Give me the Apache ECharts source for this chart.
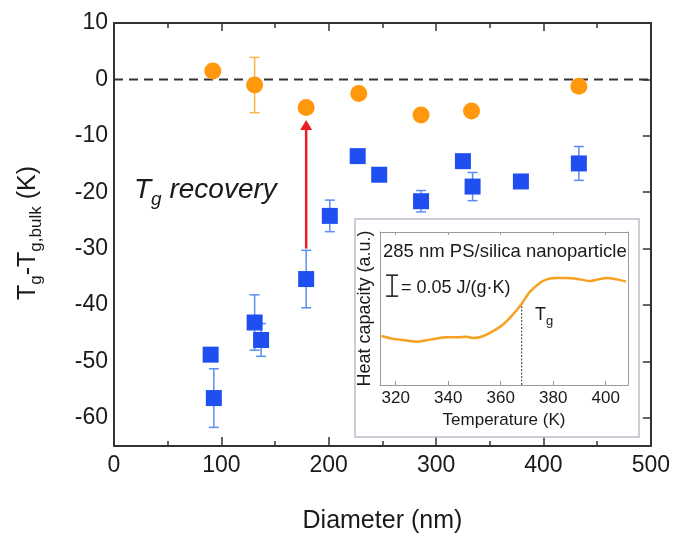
<!DOCTYPE html>
<html>
<head>
<meta charset="utf-8">
<title>Tg vs diameter</title>
<style>
  html, body { margin: 0; padding: 0; background: #fff; }
  #main { width: 673px; height: 539px; }
</style>
</head>
<body>
<div id="main"></div>
<script src="https://cdn.jsdelivr.net/npm/echarts@6.0.0/dist/echarts.min.js"></script>
<script>
// main panel: Tg - Tg,bulk against particle diameter
var xTicks = [0, 100, 200, 300, 400, 500];
var yTicks = [-60, -50, -40, -30, -20, -10, 0, 10];

// orange circles (with silica)
var circleD = [92, 131, 179, 228, 286, 333, 433];
var circleT = [1.5, -1.0, -5.0, -2.5, -6.3, -5.6, -1.2];
var circleErr = [0, 4.9, 0, 0, 0, 0, 0];

// blue squares
var squareD = [90, 93, 131, 137, 179, 201, 227, 247, 286, 325, 334, 379, 433];
var squareT = [-48.8, -56.5, -43.1, -46.2, -35.4, -24.2, -13.6, -16.9, -21.6, -14.5, -19.0, -18.1, -14.9];
var squareErr = [0, 5.2, 4.9, 2.9, 5.1, 2.8, 0, 0, 1.9, 0, 2.5, 0, 3.0];

// red arrow: diameter, from, to
var arrowD = 179;
var arrowFrom = -30;
var arrowTo = -7.2;

// inset: heat capacity trace
var tempTicks = [320, 340, 360, 380, 400];
var tempK = [314.6, 319.1, 324.2, 328.0, 331.8, 335.6, 339.4, 343.2, 347.0, 349.6, 353.4, 357.2,
  361.0, 364.8, 368.0, 371.1, 375.0, 377.5, 381.3, 385.1, 390.2, 394.0, 397.2, 400.4, 404.2, 407.7];
var heatCap = [0.117, 0.110, 0.106, 0.103, 0.107, 0.111, 0.114, 0.114, 0.115, 0.112, 0.117, 0.129,
  0.145, 0.169, 0.194, 0.222, 0.244, 0.252, 0.255, 0.255, 0.252, 0.248, 0.252, 0.255, 0.252, 0.247];
var tgK = 368;
var tgCap = 0.194;
// scale bar: temperature, centre, half height (0.05 J/(g K) in total)
var barK = 318.6;
var barMid = 0.237;
var barHalf = 0.025;

var FONT = "'Liberation Sans', Arial, Helvetica, sans-serif";

function makeBars(xs, ys, es) {
  var out = [];
  for (var i = 0; i < xs.length; i++) {
    if (es[i] > 0) out.push([xs[i], ys[i] - es[i], ys[i] + es[i]]);
  }
  return out;
}

function barRenderer(color, cap, width) {
  return function (params, api) {
    var x = api.value(0);
    var lo = api.coord([x, api.value(1)]);
    var hi = api.coord([x, api.value(2)]);
    var st = { stroke: color, lineWidth: width, fill: null };
    return {
      type: 'group',
      children: [
        { type: 'line', shape: { x1: lo[0], y1: lo[1], x2: hi[0], y2: hi[1] }, style: st },
        { type: 'line', shape: { x1: lo[0] - cap, y1: lo[1], x2: lo[0] + cap, y2: lo[1] }, style: st },
        { type: 'line', shape: { x1: hi[0] - cap, y1: hi[1], x2: hi[0] + cap, y2: hi[1] }, style: st }
      ]
    };
  };
}

function pairs(a, b) {
  var out = [];
  for (var i = 0; i < a.length; i++) out.push([a[i], b[i]]);
  return out;
}

// text with subscripts, laid out piece by piece
var mctx = document.createElement('canvas').getContext('2d');
function textRun(pieces, x0, y0, opts) {
  opts = opts || {};
  var style = opts.italic ? 'italic ' : '';
  var widths = [], total = 0;
  for (var i = 0; i < pieces.length; i++) {
    mctx.font = style + pieces[i].size + 'px ' + FONT;
    widths.push(mctx.measureText(pieces[i].t).width);
    total += widths[i];
  }
  var x = opts.center ? -total / 2 : 0;
  var kids = [];
  for (var j = 0; j < pieces.length; j++) {
    kids.push({
      type: 'text',
      x: x, y: pieces[j].dy || 0,
      style: {
        text: pieces[j].t, fill: '#1a1a1a',
        font: style + pieces[j].size + 'px ' + FONT,
        verticalAlign: 'middle', align: 'left'
      }
    });
    x += widths[j];
  }
  return { type: 'group', x: x0, y: y0, rotation: opts.rotation || 0, children: kids, z: 10 };
}

var chart = echarts.init(document.getElementById('main'));

var axisCol = '#333';
var insetCol = '#9a9a9a';

var option = {
  animation: false,
  backgroundColor: '#fff',
  grid: [
    { left: 114, right: 22, top: 23, bottom: 92 },
    { left: 380, top: 232, width: 248, height: 153 }
  ],
  xAxis: [
    {
      gridIndex: 0, type: 'value', min: 0, max: 500, interval: 100, position: 'bottom',
      name: 'Diameter (nm)', nameLocation: 'middle', nameGap: 63,
      nameTextStyle: { fontSize: 25, color: '#1a1a1a', fontFamily: FONT },
      axisLine: { show: true, onZero: false, lineStyle: { color: axisCol, width: 2 } },
      axisTick: { show: true, inside: true, length: 9, lineStyle: { color: axisCol, width: 1.5 } },
      minorTick: { show: true, splitNumber: 2, length: 5, lineStyle: { color: axisCol, width: 1.5 } },
      axisLabel: { fontSize: 23, color: '#1a1a1a', margin: 8, fontFamily: FONT },
      splitLine: { show: false }
    },
    {
      gridIndex: 0, type: 'value', min: 0, max: 500, interval: 100, position: 'top',
      axisLine: { show: true, onZero: false, lineStyle: { color: axisCol, width: 2 } },
      axisTick: { show: true, inside: true, length: 8, lineStyle: { color: axisCol, width: 1.5 } },
      minorTick: { show: true, splitNumber: 2, length: 5, lineStyle: { color: axisCol, width: 1.5 } },
      axisLabel: { show: false },
      splitLine: { show: false }
    },
    {
      gridIndex: 1, type: 'value', min: 314, max: 408.5, position: 'bottom',
      name: 'Temperature (K)', nameLocation: 'middle', nameGap: 27,
      nameTextStyle: { fontSize: 17, color: '#1a1a1a', fontFamily: FONT },
      axisLine: { show: true, onZero: false, lineStyle: { color: insetCol, width: 1 } },
      axisTick: { show: true, inside: true, length: 4, customValues: tempTicks, lineStyle: { color: insetCol } },
      axisLabel: { fontSize: 17, color: '#1a1a1a', margin: 5, customValues: tempTicks, fontFamily: FONT },
      splitLine: { show: false }
    },
    {
      gridIndex: 1, type: 'value', min: 314, max: 408.5, position: 'top',
      axisLine: { show: true, onZero: false, lineStyle: { color: insetCol, width: 1 } },
      axisTick: { show: true, inside: true, length: 3, customValues: tempTicks, lineStyle: { color: insetCol } },
      axisLabel: { show: false },
      splitLine: { show: false }
    }
  ],
  yAxis: [
    {
      gridIndex: 0, type: 'value', min: -65, max: 10, position: 'left',
      axisLine: { show: true, onZero: false, lineStyle: { color: axisCol, width: 2 } },
      axisTick: { show: false, customValues: yTicks },
      axisLabel: { fontSize: 23, color: '#1a1a1a', margin: 6, customValues: yTicks, fontFamily: FONT },
      splitLine: { show: false }
    },
    {
      gridIndex: 0, type: 'value', min: -65, max: 10, position: 'right',
      axisLine: { show: true, onZero: false, lineStyle: { color: axisCol, width: 2 } },
      axisTick: { show: true, inside: true, length: 8, customValues: yTicks, lineStyle: { color: axisCol, width: 1.5 } },
      axisLabel: { show: false },
      splitLine: { show: false }
    },
    {
      gridIndex: 1, type: 'value', min: 0, max: 0.365, position: 'left',
      name: 'Heat capacity (a.u.)', nameLocation: 'middle', nameGap: 6,
      nameTextStyle: { fontSize: 18, color: '#1a1a1a', fontFamily: FONT },
      axisLine: { show: true, onZero: false, lineStyle: { color: insetCol, width: 1 } },
      axisTick: { show: false }, axisLabel: { show: false }, splitLine: { show: false }
    },
    {
      gridIndex: 1, type: 'value', min: 0, max: 0.365, position: 'right',
      axisLine: { show: true, onZero: false, lineStyle: { color: insetCol, width: 1 } },
      axisTick: { show: false }, axisLabel: { show: false }, splitLine: { show: false }
    }
  ],
  series: [
    {
      type: 'line', xAxisIndex: 0, yAxisIndex: 0, data: [[xTicks[0], 0], [xTicks[xTicks.length - 1], 0]],
      symbol: 'none', lineStyle: { color: '#333', width: 2, type: [9, 6] }, z: 1, silent: true
    },
    {
      type: 'custom', xAxisIndex: 0, yAxisIndex: 0, data: makeBars(circleD, circleT, circleErr),
      renderItem: barRenderer('#f9b44c', 5, 1.5), encode: { x: 0, y: [1, 2] }, z: 2
    },
    {
      type: 'custom', xAxisIndex: 0, yAxisIndex: 0, data: makeBars(squareD, squareT, squareErr),
      renderItem: barRenderer('#5b8ef2', 5, 1.5), encode: { x: 0, y: [1, 2] }, z: 2
    },
    {
      type: 'scatter', xAxisIndex: 0, yAxisIndex: 0, data: pairs(circleD, circleT),
      symbol: 'circle', symbolSize: 17, itemStyle: { color: '#ff980c', opacity: 1 }, z: 3
    },
    {
      type: 'scatter', xAxisIndex: 0, yAxisIndex: 0, data: pairs(squareD, squareT),
      symbol: 'rect', symbolSize: 16, itemStyle: { color: '#1f4ff0', opacity: 1 }, z: 3
    },
    {
      type: 'custom', xAxisIndex: 0, yAxisIndex: 0, data: [[arrowD, arrowFrom, arrowTo]],
      encode: { x: 0, y: [1, 2] }, z: 4,
      renderItem: function (params, api) {
        var a = api.coord([api.value(0), api.value(1)]);
        var b = api.coord([api.value(0), api.value(2)]);
        var head = 10, hw = 6;
        return {
          type: 'group',
          children: [
            { type: 'line', shape: { x1: a[0], y1: a[1], x2: b[0], y2: b[1] + head - 1 },
              style: { stroke: '#ea1c24', lineWidth: 2.5 } },
            { type: 'polygon', shape: { points: [[b[0], b[1]], [b[0] - hw, b[1] + head], [b[0] + hw, b[1] + head]] },
              style: { fill: '#ea1c24' } }
          ]
        };
      }
    },
    {
      type: 'line', xAxisIndex: 2, yAxisIndex: 2, data: pairs(tempK, heatCap),
      symbol: 'none', smooth: 0.3, lineStyle: { color: '#f6a11f', width: 2.5 }, z: 3
    },
    {
      type: 'line', xAxisIndex: 2, yAxisIndex: 2, data: [[tgK, 0], [tgK, tgCap]],
      symbol: 'none', lineStyle: { color: '#333', width: 1, type: [2, 1.5] }, z: 2
    },
    {
      type: 'custom', xAxisIndex: 2, yAxisIndex: 2, data: [[barK, barMid - barHalf, barMid + barHalf]],
      renderItem: barRenderer('#1a1a1a', 6, 1.5), encode: { x: 0, y: [1, 2] }, z: 3
    }
  ],
  graphic: [
    {
      type: 'rect', shape: { x: 355, y: 219, width: 284, height: 218 },
      style: { fill: 'none', stroke: '#b8bfca', lineWidth: 1.5 }, z: 5
    },
    textRun([{ t: 'T', size: 25 }, { t: 'g', size: 17, dy: 8 }, { t: '-', size: 25 },
      { t: 'T', size: 25 }, { t: 'g,bulk', size: 17, dy: 8 }, { t: ' (K)', size: 25 }],
      28, 233, { center: true, rotation: Math.PI / 2 }),
    textRun([{ t: 'T', size: 28 }, { t: 'g', size: 19, dy: 10 }, { t: ' recovery', size: 28 }],
      134, 190, { italic: true }),
    {
      type: 'text', x: 383, y: 252, z: 10,
      style: { text: '285 nm PS/silica nanoparticle', font: '18.5px ' + FONT, fill: '#1a1a1a', verticalAlign: 'middle' }
    },
    {
      type: 'text', x: 401, y: 288, z: 10,
      style: { text: '= 0.05 J/(g\u00b7K)', font: '18px ' + FONT, fill: '#1a1a1a', verticalAlign: 'middle' }
    },
    textRun([{ t: 'T', size: 18 }, { t: 'g', size: 13, dy: 6 }], 535, 315)
  ]
};

chart.setOption(option);
</script>
</body>
</html>
